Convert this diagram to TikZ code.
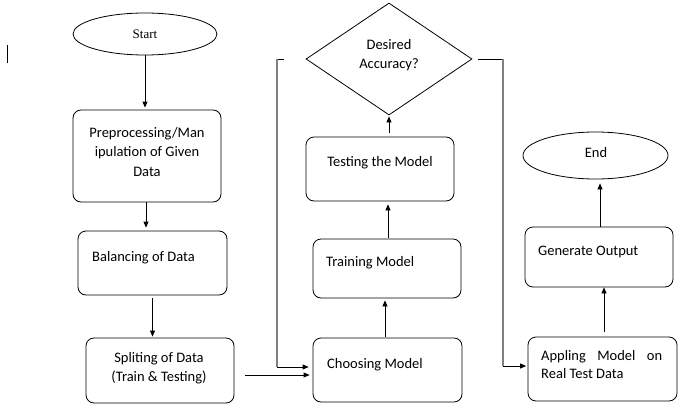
\documentclass[tikz,border=0pt]{standalone}
\usepackage{fontspec}
\setmainfont{Carlito}
\newfontfamily\timesf{Liberation Serif}
\usetikzlibrary{arrows.meta,shapes.geometric}
\tikzset{
 box/.style={draw, rounded corners=8pt, inner sep=0pt, line width=0.8pt},
 oval/.style={draw, ellipse, inner sep=0pt, line width=0.8pt},
 lbl/.style={inner sep=0pt, align=center, font=\fontsize{14.5}{19.5}\selectfont},
 lbll/.style={lbl, anchor=west, align=left},
 arr/.style={line width=0.8pt, -{Triangle[length=6pt,width=5pt]}},
 loopv/.style={draw=black!50, line width=1.4pt},
 looph/.style={line width=0.9pt},
}
\begin{document}
\begin{tikzpicture}[x=1pt,y=-1pt]
\useasboundingbox (0,0) rectangle (700,417);
% cursor mark
\draw[line width=0.9pt] (7,45) -- (7,63);
% shapes
\node[oval, minimum width=144pt, minimum height=42pt, font=\timesf\fontsize{13}{15}\selectfont] (start) at (145,34) {Start};
\node[box, minimum width=148pt, minimum height=92pt] (pre) at (147,156) {};
\node[box, minimum width=149pt, minimum height=64pt] (bal) at (152.5,263) {};
\node[box, minimum width=148pt, minimum height=65pt] (spl) at (160,370.5) {};
\node[box, minimum width=149pt, minimum height=64pt] (cho) at (387.5,370) {};
\node[box, minimum width=148pt, minimum height=59pt] (tra) at (387,268.5) {};
\node[box, minimum width=148pt, minimum height=64pt] (tes) at (380,169) {};
\node[draw, diamond, inner sep=0pt, line width=0.8pt, minimum width=166pt, minimum height=112pt] (dia) at (389,59) {};
\node[box, minimum width=149pt, minimum height=64pt] (app) at (602.5,369) {};
\node[box, minimum width=148pt, minimum height=60pt] (gen) at (599,257) {};
\node[oval, minimum width=145pt, minimum height=47pt] (end) at (595.5,155.5) {};
% texts
\node[lbl] (pret) at (147,152) {Preprocessing/Man\\ipulation of Given\\Data};
\node[lbll] (balt) at (92,258) {Balancing of Data};
\node[lbl] (splt) at (159,368) {Spliting of Data\\(Train \& Testing)};
\node[lbll] (chot) at (327,365) {Choosing Model};
\node[lbll] (trat) at (326,263) {Training Model};
\node[lbl] (test) at (380,163) {Testing the Model};
\node[lbl] (diat) at (389,55) {Desired\\Accuracy?};
\node[lbll] (gent) at (538,252) {Generate Output};
\node[lbl] (endt) at (596,153) {End};
\node[lbll, font=\fontsize{14.5}{18}\selectfont] (appt) at (541,365) {\makebox[121pt][s]{Appling Model on}\\Real Test Data};
% vertical arrows
\draw[arr, shorten >=2pt] (start.south) -- (start.south |- pre.north);
\draw[arr, shorten >=3pt] ([xshift=-1pt]pre.south) -- ([xshift=-1pt]pre.south |- bal.north);
\draw[arr, shorten <=3pt, shorten >=1pt] (bal.south) -- (bal.south |- spl.north);
\draw[arr, shorten <=1pt, shorten >=2pt] ([xshift=-2.5pt]cho.north) -- ([xshift=-2.5pt]cho.north |- tra.south);
\draw[arr, shorten <=1pt, shorten >=3pt] ([xshift=1pt]tra.north) -- ([xshift=1pt]tra.north |- tes.south);
\draw[arr, shorten <=4pt, shorten >=1pt] (dia.south |- tes.north) -- (dia.south);
\draw[arr, shorten <=5pt] ([xshift=1.5pt]app.north) -- ([xshift=1.5pt]app.north |- gen.south);
\draw[arr, shorten >=4pt] ([xshift=1pt]gen.north) -- ([xshift=1pt]gen.north |- end.south);
% split -> choosing
\coordinate (sA) at (245,375);
\draw[arr, shorten >=3pt] (sA) -- (sA -| cho.west);
% left loop
\coordinate (lA) at (284,59);
\coordinate (lB) at (277,59);
\coordinate (lC) at (277,367);
\draw[looph] (lA) -- (lB);
\draw[loopv] (lB) -- (lC);
\draw[arr, shorten >=4pt] (lC) -- (lC -| cho.west);
% right loop
\coordinate (rA) at (478,59);
\coordinate (rB) at (503,59);
\coordinate (rC) at (503,366);
\draw[looph] (rA) -- (rB);
\draw[loopv] (rB) -- (rC);
\draw[arr, shorten >=1.5pt] (rC) -- (rC -| app.west);
\end{tikzpicture}
\end{document}
